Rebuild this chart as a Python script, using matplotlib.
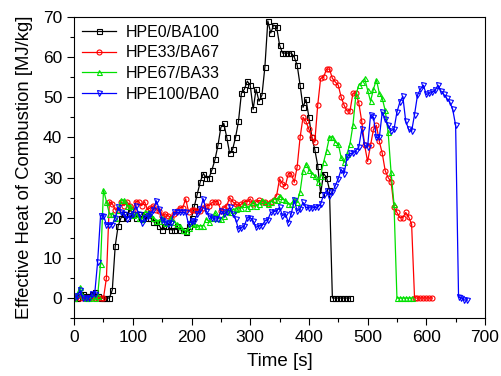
import numpy as np
import matplotlib
matplotlib.use("Agg")
import matplotlib.pyplot as plt
from matplotlib.ticker import MultipleLocator

plt.rcParams['font.family'] = ['Liberation Sans', 'DejaVu Sans']

step = 5  # sampling interval [s]

# HPE0/BA100, t = 0..470 s
hpe0 = [0, 0, 1, 1, 0.5, 0.5, 1, 1.5, 0.5, 0, 0, 0, 0,
        2, 13, 18, 20, 21, 20, 22, 21, 20, 21, 20, 21, 20, 20, 19, 19,
        18, 17, 18, 18, 17, 17, 18, 17, 17, 16.5, 18, 20, 23, 26, 29, 31,
        30, 30, 32, 34.5, 38, 42.5, 43.5, 40, 36, 37, 40, 44, 51, 52, 54,
        53, 47, 52, 49, 50.5, 57.5, 69, 66, 68, 67.5, 63, 61, 61, 61, 61,
        60, 58, 53, 47.5, 49.5, 45, 40, 37, 33, 26, 31, 30, 27,
        0, 0, 0, 0, 0, 0, 0]

# HPE33/BA67, t = 0..610 s
hpe33 = [0, 0.5, 0, 0, 0, 0, 0, 0, 0, 0, 0,
         5, 24, 23.5, 22, 22, 24, 23, 24, 23, 22, 24, 24, 23, 24, 22, 22.5,
         23, 22, 21.7, 20.5, 21, 20.5, 20, 21, 21.7, 22.5, 22.5, 24.7, 21.5,
         22, 22, 21.7, 21.7, 22.5, 23, 23, 23.8, 24, 24, 21.7, 22.5, 23, 25,
         24, 23.4, 23, 23.4, 24, 24, 24.7, 23.4, 24, 24.3, 24, 23.8, 23.5, 24,
         24.5, 25.5, 29.7, 28.4, 28, 31, 31, 28.8, 32.7, 40, 45, 44, 42, 40,
         38.8, 48, 54.7, 55, 57, 57, 54.7, 53.8, 53, 50, 48, 46.6, 46.6, 51,
         51, 48.6, 44, 38, 34, 38, 42, 43, 39, 36, 31.7, 30, 29, 22.6, 21.3,
         20, 20, 21.3, 20.2, 18.4,
         0, 0, 0, 0, 0, 0, 0]

# HPE67/BA33, t = 0..575 s
hpe67 = [0, 1, 2.7, 0.5, 0, 0, 0.5, 0, 0.5, 8.4, 27, 24, 21, 21, 20, 22,
         24.4, 24.4, 23, 23, 20.7, 21, 20, 19.7, 21.3, 21.3, 21, 20, 19.3,
         19.3, 20, 18.8, 19, 20, 19, 18.4, 18, 17, 16.7, 17.5, 18.6, 18.5, 18,
         18, 18, 19.7, 19, 20, 21.3, 20, 19.7, 20.5, 21.7, 21.3, 22, 22.2,
         22.5, 22.5, 23.4, 22.5, 23, 24, 23, 23.5, 24.3, 24, 23.5, 24, 24.7,
         24.5, 25.5, 24.7, 24.3, 23.4, 23.4, 24.6, 24, 26.5, 31.7, 33.4, 32,
         31, 30.5, 28.8, 30.5, 33.8, 36.7, 40, 40.2, 38.8, 38.4, 35, 33.8,
         35.9, 38.4, 43, 50.5, 53, 53.8, 54.7, 51.8, 49, 52, 54.4, 51, 49.7,
         46.7, 41.3, 31.3, 23.4,
         0, 0, 0, 0, 0, 0]

# HPE100/BA0, t = 0..670 s
hpe100 = [0, 0.5, 2, 0, 0, 0, 1, 1, 9, 20.5, 20.5, 18.3, 18.3, 18.3, 20,
          22.6, 21.3, 21, 19.7, 20.5, 21, 23, 21, 18.6, 20, 20.5, 21, 22,
          24.2, 22.2, 19.4, 19, 18.5, 18.8, 21.3, 21.3, 21.3, 21.3, 21.3,
          18.4, 19.2, 19.2, 21, 22.2, 24.7, 21.7, 20.5, 20, 19.7, 19.7, 21.7,
          21, 21.3, 22.6, 21, 19.7, 17.2, 17.5, 18, 20, 20, 19.2, 17.6, 18,
          18, 19.2, 19.5, 21.3, 21.5, 21.7, 22.6, 20.5, 21, 18.8, 21, 24.3,
          21.7, 22.2, 23.8, 22.6, 22.5, 22.4, 22.6, 22.6, 23.4, 25.7, 26.7,
          25.5, 26.3, 28, 29.7, 32, 31, 35, 36, 36, 36.7, 37.6, 42, 38, 37.6,
          45.5, 45, 40, 40, 46.3, 44.6, 43, 41.7, 42, 46.3, 48.8, 50.2, 44, 42,
          41.5, 45.7, 50.5, 52, 53, 50.7, 51, 51.2, 51.7, 53, 51.5, 50.7, 49.7,
          48.8, 47, 43,
          0.2, 0, -0.5, -0.5]

series = [
    ("HPE0/BA100", hpe0, "black", "s"),
    ("HPE33/BA67", hpe33, "#ff0000", "o"),
    ("HPE67/BA33", hpe67, "#00e000", "^"),
    ("HPE100/BA0", hpe100, "#0000ff", "v"),
]

fig = plt.figure(figsize=(5.01, 3.76), dpi=100)
ax = fig.add_axes([0.148, 0.154, 0.820, 0.801])

for label, vals, col, mk in series:
    t = np.arange(len(vals)) * step
    ax.plot(t, vals, color=col, marker=mk, markersize=3.6, markerfacecolor='none',
            markeredgewidth=0.8, linewidth=0.9, label=label)

ax.set_xlim(0, 700)
ax.set_ylim(-5, 70)
ax.xaxis.set_major_locator(MultipleLocator(100))
ax.xaxis.set_minor_locator(MultipleLocator(50))
ax.yaxis.set_major_locator(MultipleLocator(10))
ax.yaxis.set_minor_locator(MultipleLocator(5))
ax.tick_params(which='major', length=5, width=0.8, labelsize=12.5)
ax.tick_params(which='minor', length=3, width=0.8)
ax.set_xlabel("Time [s]", fontsize=13.5, labelpad=6)
ax.set_ylabel("Effective Heat of Combustion [MJ/kg]", fontsize=13.3, labelpad=7)

ax.legend(loc='upper left', frameon=False, fontsize=11.5, numpoints=1,
          handlelength=2.1, handletextpad=0.6, labelspacing=0.35,
          borderaxespad=0.1)

fig.savefig("out.png", dpi=100)
